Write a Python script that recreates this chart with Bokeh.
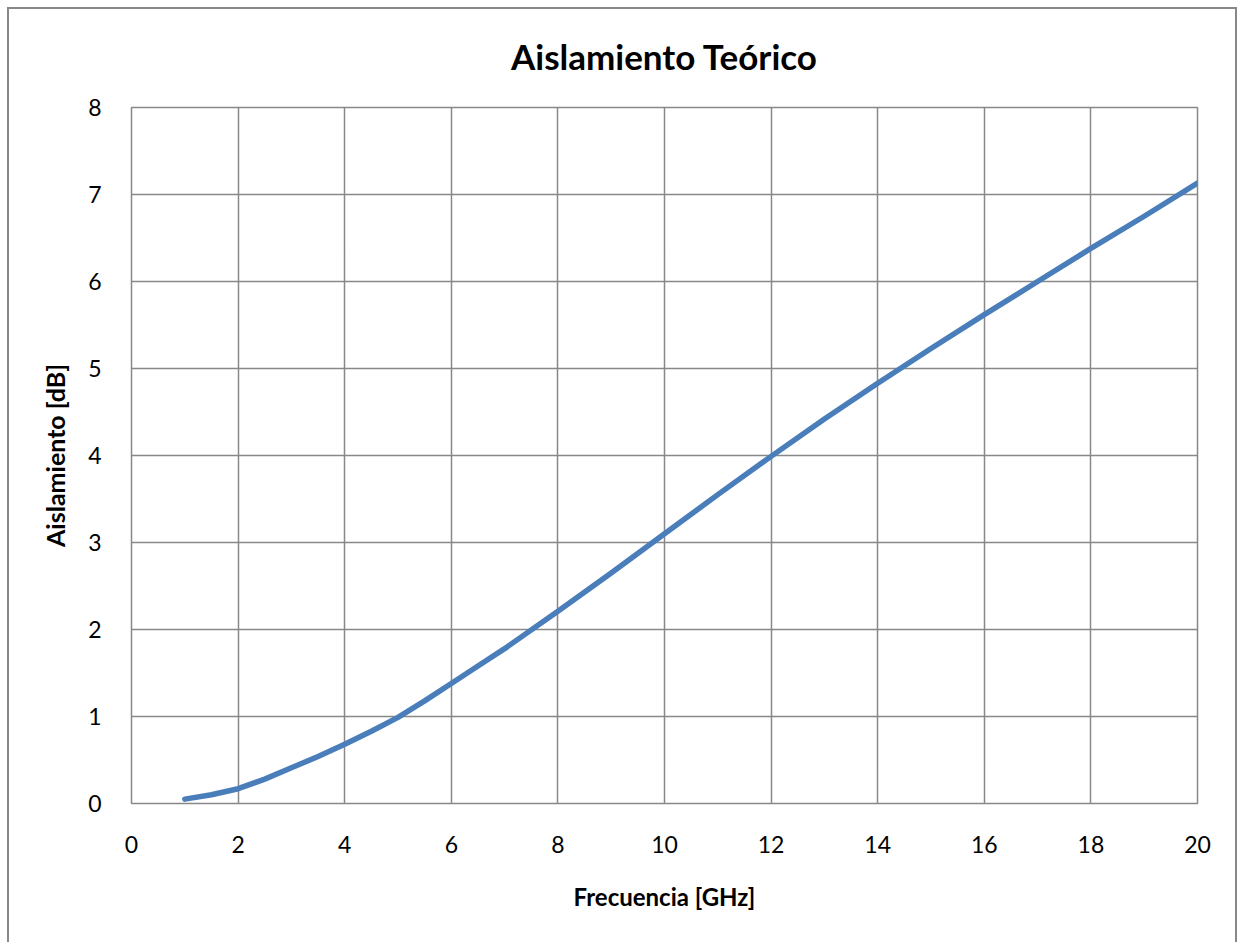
from bokeh.plotting import figure
from bokeh.models import Range1d, FixedTicker
from bokeh.embed import file_html
from bokeh.resources import INLINE

# Theoretical isolation versus frequency
freq_ghz = [1, 1.5, 2, 2.5, 3, 3.5, 4, 4.5, 5, 5.5, 6, 6.5, 7, 8, 9, 10,
            11, 12, 13, 14, 15, 16, 17, 18, 19, 20]
isolation_db = [0.05, 0.10, 0.17, 0.28, 0.41, 0.54, 0.68, 0.83, 0.99, 1.18, 1.38, 1.58, 1.78,
                2.21, 2.65, 3.10, 3.55, 3.99, 4.42, 4.83, 5.23, 5.62, 6.00, 6.38, 6.75, 7.13]

x_ticks = [0, 2, 4, 6, 8, 10, 12, 14, 16, 18, 20]
y_ticks = [0, 1, 2, 3, 4, 5, 6, 7, 8]

FONT = "Lato"
GRID = "#888888"

p = figure(
    width=1239, height=942,
    frame_width=1066, frame_height=696,
    min_border_left=131, min_border_right=42,
    min_border_top=107, min_border_bottom=139,
    x_range=Range1d(0, 20), y_range=Range1d(0, 8),
    output_backend="svg", toolbar_location=None,
    title="Aislamiento Teórico",
)

p.title.text_font = FONT
p.title.text_font_size = "35px"
p.title.text_font_style = "bold"
p.title.align = "center"
p.title.text_color = "black"
p.title.standoff = 61

p.line(freq_ghz, isolation_db, line_color="#4a7ebb", line_width=5.5,
       line_cap="round", line_join="round")

for ax, ticks in ((p.xaxis[0], x_ticks), (p.yaxis[0], y_ticks)):
    ax.ticker = FixedTicker(ticks=ticks)
    ax.major_tick_line_color = None
    ax.minor_tick_line_color = None
    ax.axis_line_color = None
    ax.major_label_text_font = FONT
    ax.major_label_text_font_size = "23px"
    ax.major_label_text_color = "black"
    ax.axis_label_text_font = FONT
    ax.axis_label_text_font_style = "bold"
    ax.axis_label_text_color = "black"

p.xaxis.axis_label = "Frecuencia [GHz]"
p.yaxis.axis_label = "Aislamiento [dB]"
p.xaxis.axis_label_text_font_size = "24px"
p.yaxis.axis_label_text_font_size = "25px"
p.xaxis.major_label_standoff = 26
p.xaxis.axis_label_standoff = 26
p.yaxis.major_label_standoff = 24
p.yaxis.axis_label_standoff = 15

p.xgrid.grid_line_color = GRID
p.ygrid.grid_line_color = GRID
p.xgrid.grid_line_width = 1.5
p.ygrid.grid_line_width = 1.5
p.outline_line_color = GRID
p.outline_line_width = 1.5

p.background_fill_color = "white"
p.border_fill_color = "white"

# Thin grey border around the whole chart area (open at the bottom edge of the page)
p.stylesheets = [
    ":host::after { content: ''; position: absolute; left: 7px; top: 7px; width: 1230px;"
    " height: 935px; box-sizing: border-box; border-style: solid solid none solid;"
    " border-width: 2px 2px 0 2px; border-color: #888888; pointer-events: none; }",
]

open("out.html", "w").write(file_html(p, INLINE))
